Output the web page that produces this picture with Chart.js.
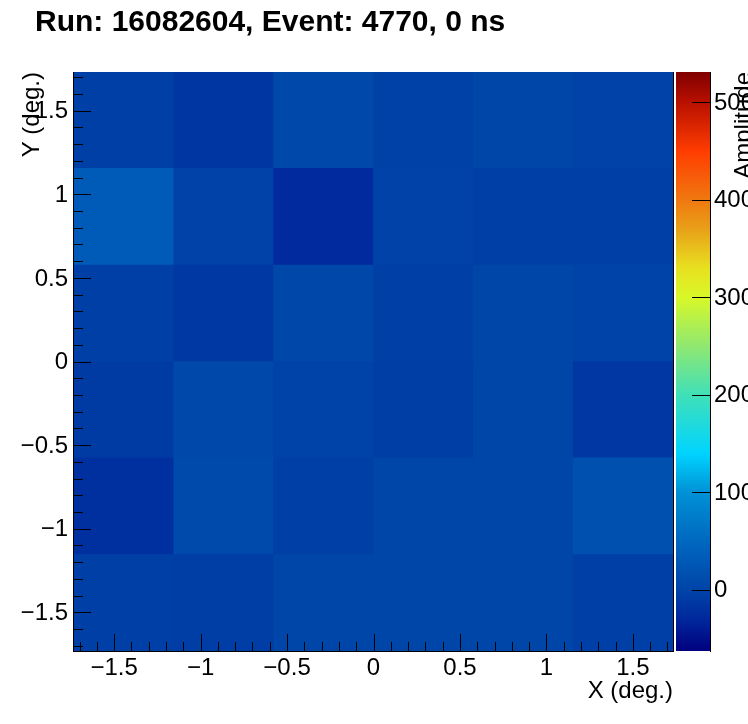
<!DOCTYPE html>
<html>
<head>
<meta charset="utf-8">
<script src="https://cdn.jsdelivr.net/npm/chart.js@4.4.1/dist/chart.umd.min.js"></script>
<style>
  html, body { margin: 0; padding: 0; background: #ffffff; }
  #wrap { width: 748px; height: 724px; position: relative; }
</style>
</head>
<body>
<div id="wrap"><canvas id="c" width="748" height="724"></canvas></div>
<script>
// ---------------- data ----------------
const chartTitle = 'Run: 16082604, Event: 4770, 0 ns';
const xAxisTitle = 'X (deg.)';
const yAxisTitle = 'Y (deg.)';
const zAxisTitle = 'Amplitude';

const xBinCenters = [-1.443, -0.866, -0.289, 0.289, 0.866, 1.443];
const yBinEdges   = [-1.732, -1.155, -0.577, 0, 0.577, 1.155, 1.732];
const xRange = [-1.732, 1.732];
const yRange = [-1.732, 1.732];
const zRange = [-63, 531];

const xTickValues = [-1.5, -1, -0.5, 0, 0.5, 1, 1.5];
const yTickValues = [-1.5, -1, -0.5, 0, 0.5, 1, 1.5];
const zTickValues = [0, 100, 200, 300, 400, 500];

// amplitudes per row of cells (left to right), rows listed bottom to top
const ampRowY_m144 = [-4, -7, 3, 3, 3, -5];
const ampRowY_m087 = [-21, 8, -5, 1, 1, 17];
const ampRowY_m029 = [-10, 5, -1, -6, 3, -14];
const ampRowY_p029 = [-4, -13, 4, -4, 3, -1];
const ampRowY_p087 = [31, -2, -28, -2, -4, -4];
const ampRowY_p144 = [-4, -15, 5, -3, 3, -2];
const amplitudeRows = [ampRowY_m144, ampRowY_m087, ampRowY_m029, ampRowY_p029, ampRowY_p087, ampRowY_p144];

// ---------------- style ----------------
const FONT = '"Liberation Sans", Arial, Helvetica, sans-serif';
const paletteStops = [
  [-63, [0, 0, 128]],
  [-30, [0, 40, 156]],
  [0,   [0, 68, 168]],
  [50,  [0, 104, 192]],
  [100, [0, 146, 214]],
  [140, [0, 212, 255]],
  [200, [64, 224, 184]],
  [250, [144, 232, 112]],
  [300, [216, 248, 40]],
  [330, [232, 224, 32]],
  [370, [232, 160, 24]],
  [400, [240, 120, 16]],
  [450, [255, 60, 0]],
  [500, [184, 16, 0]],
  [531, [128, 0, 0]]
];
function colorFor(v) {
  if (v <= paletteStops[0][0]) return 'rgb(' + paletteStops[0][1].join(',') + ')';
  for (let i = 1; i < paletteStops.length; i++) {
    const [v1, c1] = paletteStops[i];
    const [v0, c0] = paletteStops[i - 1];
    if (v <= v1) {
      const t = (v - v0) / (v1 - v0);
      const c = c0.map((a, k) => Math.round(a + (c1[k] - a) * t));
      return 'rgb(' + c.join(',') + ')';
    }
  }
  return 'rgb(' + paletteStops[paletteStops.length - 1][1].join(',') + ')';
}
function fmt(v) {
  const s = String(Math.abs(v));
  return v < 0 ? '\u2212' + s : s;
}

const datasets = amplitudeRows.map((row, r) => ({
  label: 'row' + r,
  data: xBinCenters.map((x, i) => ({ x: x, y: [yBinEdges[r], yBinEdges[r + 1]], v: row[i] })),
  backgroundColor: (ctx) => ctx.raw ? colorFor(ctx.raw.v) : '#000',
  borderWidth: 0,
  barThickness: 'flex',
  categoryPercentage: 1,
  barPercentage: 1
}));

const rootStyle = {
  id: 'rootStyle',
  beforeDraw(chart) {
    const c = chart.ctx;
    c.save();
    c.fillStyle = '#ffffff';
    c.fillRect(0, 0, chart.width, chart.height);
    c.restore();
  },
  beforeDatasetsDraw(chart) {
    // backdrop under the cells so that anti-aliased cell seams do not show white
    const { ctx, chartArea: a } = chart;
    ctx.save();
    ctx.fillStyle = colorFor(0);
    ctx.fillRect(a.left, a.top, a.right - a.left, a.bottom - a.top);
    ctx.restore();
  },
  afterDraw(chart) {
    const { ctx, chartArea: a, scales } = chart;
    const x = scales.x, y = scales.y, z = scales.z;
    ctx.save();
    ctx.fillStyle = '#000000';
    // frame
    ctx.fillRect(Math.round(a.left) - 1, Math.round(a.top), 1, Math.round(a.bottom - a.top) + 1);
    ctx.fillRect(Math.round(a.left) - 1, Math.round(a.bottom), Math.round(a.right - a.left) + 2, 1);
    ctx.fillRect(Math.round(a.right), Math.round(a.top), 1, Math.round(a.bottom - a.top) + 1);
    // x ticks (inside)
    for (let k = -17; k <= 17; k++) {
      const v = k / 10;
      const px = Math.round(x.getPixelForValue(v));
      const major = xTickValues.some(t => Math.abs(t - v) < 1e-6);
      const len = major ? 17 : 9;
      ctx.fillRect(px, Math.round(a.bottom) - len, 1, len);
    }
    // y ticks (inside)
    for (let k = -17; k <= 17; k++) {
      const v = k / 10;
      const py = Math.round(y.getPixelForValue(v));
      const major = yTickValues.some(t => Math.abs(t - v) < 1e-6);
      const len = major ? 17 : 9;
      ctx.fillRect(Math.round(a.left), py, len, 1);
    }
    // colour bar
    const zTop = z.getPixelForValue(zRange[1]);
    const zBot = z.getPixelForValue(zRange[0]);
    const barL = Math.round(a.right) + 3, barR = Math.round(a.right) + 37;
    const g = ctx.createLinearGradient(0, zBot, 0, zTop);
    paletteStops.forEach(([v, c]) => g.addColorStop((v - zRange[0]) / (zRange[1] - zRange[0]), 'rgb(' + c.join(',') + ')'));
    ctx.fillStyle = g;
    ctx.fillRect(barL, zTop, barR - barL, zBot - zTop);
    ctx.fillStyle = '#000000';
    ctx.fillRect(barR, Math.round(zTop), 1, Math.round(zBot - zTop) + 1);
    zTickValues.forEach(v => {
      const py = Math.round(z.getPixelForValue(v));
      ctx.fillRect(barR - 18, py, 18, 1);
    });
    // title
    ctx.font = 'bold 30px ' + FONT;
    ctx.textAlign = 'left';
    ctx.textBaseline = 'alphabetic';
    ctx.fillText(chartTitle, 35, 31);
    // colour bar title (rotated, clipped by canvas edge)
    ctx.font = '24px ' + FONT;
    ctx.translate(751, Math.round(a.top));
    ctx.rotate(-Math.PI / 2);
    ctx.textAlign = 'right';
    ctx.fillText(zAxisTitle, 0, 0);
    ctx.restore();
  }
};

new Chart(document.getElementById('c'), {
  type: 'bar',
  data: { datasets: datasets },
  plugins: [rootStyle],
  options: {
    responsive: false,
    animation: false,
    devicePixelRatio: 1,
    layout: { padding: { top: 72, left: 0, right: 0, bottom: 0 } },
    plugins: { legend: { display: false }, tooltip: { enabled: false }, title: { display: false } },
    scales: {
      x: {
        type: 'linear', min: xRange[0], max: xRange[1], offset: false, stacked: true,
        grid: { display: false, drawTicks: false, offset: false },
        border: { display: false },
        afterBuildTicks: (s) => { s.ticks = xTickValues.map(v => ({ value: v })); },
        afterFit: (s) => { s.height = 73; },
        ticks: { autoSkip: false, maxRotation: 0, padding: 3, color: '#000', font: { family: FONT, size: 24 }, callback: (v) => fmt(v) },
        title: { display: true, text: xAxisTitle, align: 'end', color: '#000', font: { family: FONT, size: 24 }, padding: { top: 0, bottom: 18 } }
      },
      y: {
        type: 'linear', min: yRange[0], max: yRange[1], stacked: false,
        grid: { display: false, drawTicks: false },
        border: { display: false },
        afterBuildTicks: (s) => { s.ticks = yTickValues.map(v => ({ value: v })); },
        afterFit: (s) => { s.width = 74; },
        ticks: { autoSkip: false, padding: 6, labelOffset: 1, color: '#000', font: { family: FONT, size: 24 }, callback: (v) => fmt(v) },
        title: { display: true, text: yAxisTitle, align: 'end', color: '#000', font: { family: FONT, size: 24 }, padding: { top: 18, bottom: 0 } }
      },
      z: {
        type: 'linear', position: 'right', min: zRange[0], max: zRange[1],
        grid: { display: false, drawTicks: false },
        border: { display: false },
        afterBuildTicks: (s) => { s.ticks = zTickValues.map(v => ({ value: v })); },
        afterFit: (s) => { s.width = 75; },
        ticks: { autoSkip: false, padding: 41, labelOffset: 1, color: '#000', font: { family: FONT, size: 24 }, callback: (v) => fmt(v) }
      }
    }
  }
});
</script>
</body>
</html>
